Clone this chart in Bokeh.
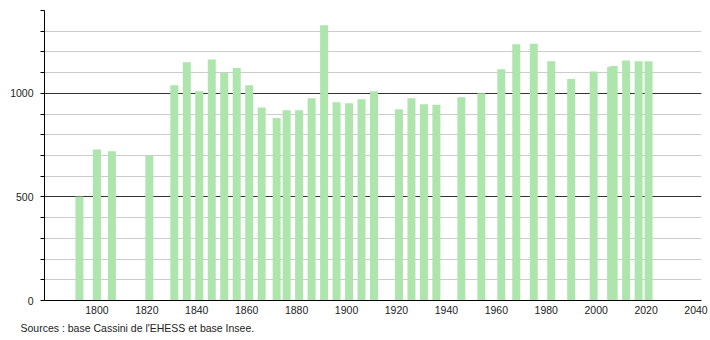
from bokeh.plotting import figure
from bokeh.models import FixedTicker, Grid, Title, Range1d, ColumnDataSource
from bokeh.embed import file_html
from bokeh.resources import INLINE

years = [1793, 1800, 1806, 1821, 1831, 1836, 1841, 1846, 1851, 1856, 1861, 1866,
         1872, 1876, 1881, 1886, 1891, 1896, 1901, 1906, 1911, 1921, 1926, 1931,
         1936, 1946, 1954, 1962, 1968, 1975, 1982, 1990, 1999, 2006, 2007, 2012,
         2017, 2021]
population = [502, 729, 720, 699, 1039, 1150, 1010, 1164, 1098, 1122, 1039, 932,
              881, 918, 918, 976, 1329, 957, 952, 971, 1010, 923, 976, 947,
              945, 981, 1000, 1116, 1237, 1240, 1155, 1069, 1106, 1127, 1132, 1159,
              1155, 1155]
x_ticks = [1800, 1820, 1840, 1860, 1880, 1900, 1920, 1940, 1960, 1980, 2000, 2020, 2040]
y_ticks = list(range(0, 1401, 100))
y_labelled = [0, 500, 1000]
source_text = "Sources : base Cassini de l'EHESS et base Insee."

FONT = "Liberation Sans"

p = figure(width=710, height=340, output_backend="svg", toolbar_location=None,
           x_range=Range1d(1779.0, 2042.2), y_range=Range1d(0, 1400),
           min_border_left=44, min_border_right=9, min_border_top=10,
           min_border_bottom=40)
p.outline_line_color = None
p.background_fill_color = "white"
p.border_fill_color = "white"

src = ColumnDataSource(dict(x=years, top=population))
p.vbar(x="x", top="top", bottom=0, width=3.2, source=src,
       fill_color="#ade5ad", line_color=None)

# x axis
p.xaxis.ticker = FixedTicker(ticks=x_ticks)
p.xaxis.major_tick_out = 0
p.xaxis.major_tick_in = 0
p.xaxis.minor_tick_out = 0
p.xaxis.minor_tick_in = 0
p.xaxis.axis_line_color = "black"
p.xaxis.major_label_standoff = 5
p.xaxis.major_label_text_font = FONT
p.xaxis.major_label_text_font_size = "10.5px"
p.xaxis.major_label_text_color = "#222222"

# y axis
p.yaxis.ticker = FixedTicker(ticks=y_ticks)
p.yaxis.major_label_overrides = {t: ("" if t not in y_labelled else str(t)) for t in y_ticks}
p.yaxis.major_tick_out = 4
p.yaxis.major_tick_in = 0
p.yaxis.minor_tick_out = 0
p.yaxis.minor_tick_in = 0
p.yaxis.axis_line_color = "black"
p.yaxis.major_label_standoff = 7
p.yaxis.major_label_text_font = FONT
p.yaxis.major_label_text_font_size = "10.5px"
p.yaxis.major_label_text_color = "#222222"

# grids
p.xgrid.grid_line_color = None
p.ygrid.ticker = FixedTicker(ticks=y_ticks[1:])
p.ygrid.grid_line_color = "#cccccc"
p.add_layout(Grid(dimension=1, ticker=FixedTicker(ticks=[500, 1000]),
                  grid_line_color="#333333"))

p.add_layout(Title(text=source_text, align="left", offset=-24,
                   text_font=FONT, text_font_size="10.5px",
                   text_font_style="normal", text_color="#222222",
                   standoff=6), "below")

open("out.html", "w").write(file_html(p, INLINE))
